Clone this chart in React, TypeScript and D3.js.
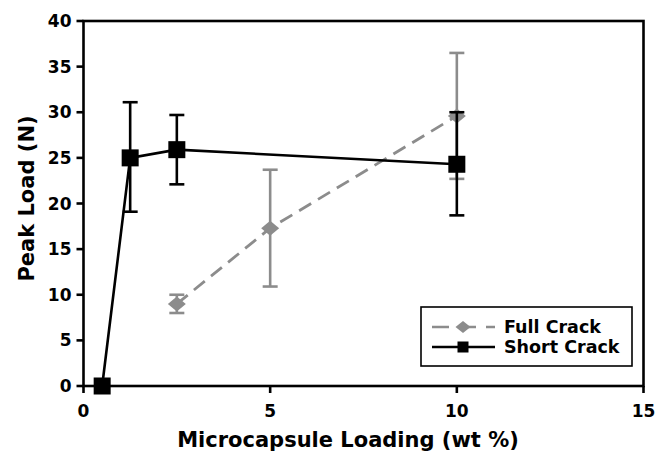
import React from "react";
import * as d3 from "d3";

// Full Crack series (gray, dashed, diamonds)
const fullX = [2.5, 5, 10];
const fullY = [9.0, 17.3, 29.6];
const fullLo = [8.0, 10.9, 22.7];
const fullHi = [10.0, 23.7, 36.5];

// Short Crack series (black, solid, squares)
const shortX = [0.5, 1.25, 2.5, 10];
const shortY = [0, 25.0, 25.9, 24.3];
const shortLo = [0, 19.1, 22.1, 18.7];
const shortHi = [0, 31.1, 29.7, 30.0];

const xTicks = [0, 5, 10, 15];
const yTicks = [0, 5, 10, 15, 20, 25, 30, 35, 40];

const W = 657;
const H = 453;
const FONT = "DejaVu Sans, Verdana, sans-serif";
const GRAY = "#8c8c8c";

const App = () => {
  const x = d3.scaleLinear().domain([0, 15]).range([83.5, 643.5]);
  const y = d3.scaleLinear().domain([0, 40]).range([386, 21]);

  const line = d3
    .line<[number, number]>()
    .x((d) => x(d[0]))
    .y((d) => y(d[1]));

  const fullPts = fullX.map((v, i) => [v, fullY[i]] as [number, number]);
  const shortPts = shortX.map((v, i) => [v, shortY[i]] as [number, number]);

  const errBars = (xs: number[], lo: number[], hi: number[], color: string) =>
    xs.map((v, i) =>
      hi[i] - lo[i] > 0 ? (
        <g key={i} stroke={color} strokeWidth={2.6}>
          <line x1={x(v)} x2={x(v)} y1={y(lo[i])} y2={y(hi[i])} />
          <line x1={x(v) - 7.5} x2={x(v) + 7.5} y1={y(lo[i])} y2={y(lo[i])} />
          <line x1={x(v) - 7.5} x2={x(v) + 7.5} y1={y(hi[i])} y2={y(hi[i])} />
        </g>
      ) : null
    );

  const diamond = (cx: number, cy: number, rx: number, ry: number, key: any) => (
    <path
      key={key}
      d={`M${cx},${cy - ry}L${cx + rx},${cy}L${cx},${cy + ry}L${cx - rx},${cy}Z`}
      fill={GRAY}
    />
  );

  const square = (cx: number, cy: number, s: number, key: any) => (
    <rect key={key} x={cx - s / 2} y={cy - s / 2} width={s} height={s} fill="#000" />
  );

  const lgX = 421;
  const lgY = 307;

  return (
    <svg
      width={W}
      height={H}
      style={{ position: "absolute", left: 0, top: 0, background: "#fff" }}
      fontFamily={FONT}
      fontWeight="bold"
    >
      {/* frame */}
      <rect
        x={x(0)}
        y={y(40)}
        width={x(15) - x(0)}
        height={y(0) - y(40)}
        fill="none"
        stroke="#000"
        strokeWidth={2.6}
      />
      {/* y ticks */}
      {yTicks.map((t) => (
        <g key={t}>
          <line x1={x(0) - 7} x2={x(0)} y1={y(t)} y2={y(t)} stroke="#000" strokeWidth={2.6} />
          <text x={x(0) - 12} y={y(t)} dy="0.36em" textAnchor="end" fontSize={17}>
            {t}
          </text>
        </g>
      ))}
      {/* x ticks */}
      {xTicks.map((t) => (
        <g key={t}>
          <line x1={x(t)} x2={x(t)} y1={y(0)} y2={y(0) + 7} stroke="#000" strokeWidth={2.6} />
          <text x={x(t)} y={417} textAnchor="middle" fontSize={17}>
            {t}
          </text>
        </g>
      ))}
      <text x={348} y={447} textAnchor="middle" fontSize={21}>
        Microcapsule Loading (wt %)
      </text>
      <text
        transform={`translate(34,198.5) rotate(-90)`}
        textAnchor="middle"
        fontSize={21}
      >
        Peak Load (N)
      </text>

      {/* Full Crack */}
      {errBars(fullX, fullLo, fullHi, GRAY)}
      <path d={line(fullPts) || ""} fill="none" stroke={GRAY} strokeWidth={2.8} strokeDasharray="14,8" />
      {fullPts.map((p, i) => diamond(x(p[0]), y(p[1]), 9, 7.5, i))}

      {/* Short Crack */}
      {errBars(shortX, shortLo, shortHi, "#000")}
      <path d={line(shortPts) || ""} fill="none" stroke="#000" strokeWidth={2.6} />
      {shortPts.map((p, i) => square(x(p[0]), y(p[1]), 17, i))}

      {/* legend */}
      <rect x={lgX} y={lgY} width={211} height={59} fill="#fff" stroke="#000" strokeWidth={1.6} />
      <line x1={lgX + 11} x2={lgX + 74} y1={lgY + 20} y2={lgY + 20} stroke={GRAY} strokeWidth={2.6} strokeDasharray="17,10" />
      {diamond(lgX + 42, lgY + 20, 7.5, 6, "ld")}
      <text x={lgX + 83} y={lgY + 20} dy="0.36em" fontSize={17.5}>
        Full Crack
      </text>
      <line x1={lgX + 11} x2={lgX + 74} y1={lgY + 40} y2={lgY + 40} stroke="#000" strokeWidth={2.6} />
      {square(lgX + 42, lgY + 40, 11, "ls")}
      <text x={lgX + 83} y={lgY + 40} dy="0.36em" fontSize={17.5}>
        Short Crack
      </text>
    </svg>
  );
};

export default App;
